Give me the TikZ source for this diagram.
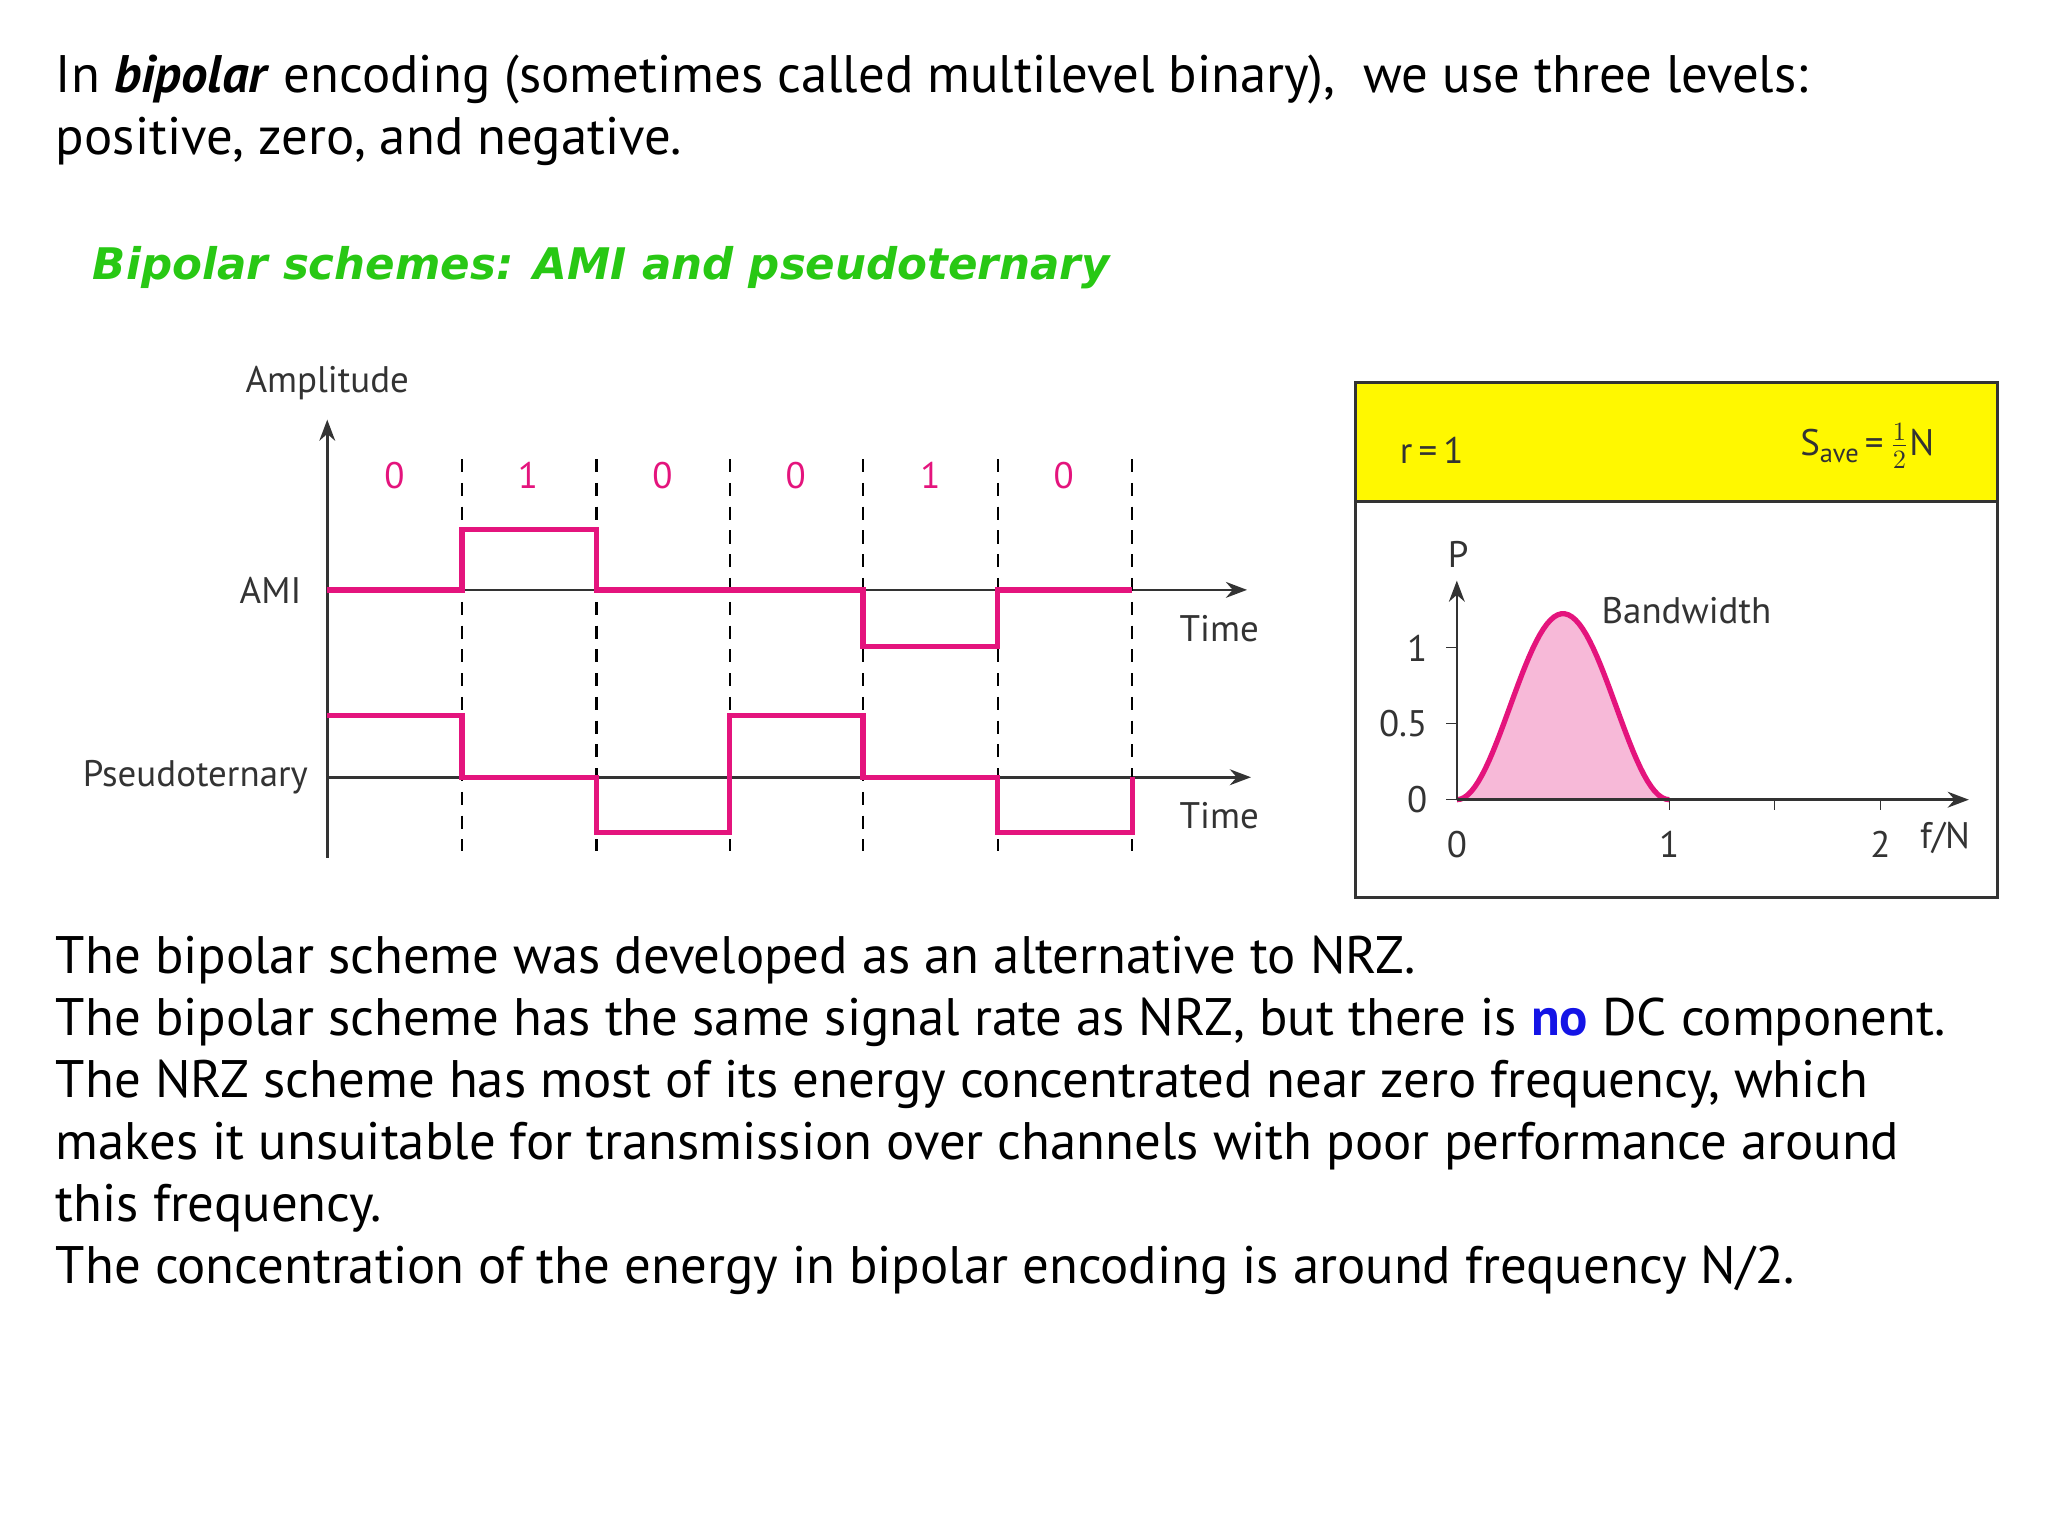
\documentclass[tikz,border=0pt]{standalone}
\usepackage{fontspec}
\setmainfont{PT Sans}
\newfontfamily\titlefont{DejaVu Sans}
\usetikzlibrary{arrows.meta}
\definecolor{pk}{RGB}{228,20,125}
\definecolor{gr}{RGB}{40,200,20}
\definecolor{yl}{RGB}{255,248,0}
\definecolor{bl}{RGB}{20,20,230}
\begin{document}
\begin{tikzpicture}[x=0.5pt,y=-0.5pt,
  body/.style={anchor=base west,inner sep=0,font=\fontsize{20}{24}\selectfont},
  lab/.style={inner sep=0,font=\fontsize{14}{16}\selectfont,text=black!80},
  bit/.style={inner sep=0,font=\fontsize{14}{16}\selectfont,text=pk},
  sig/.style={pk,line width=2pt},
  ax/.style={black!80,line width=1pt,-{Stealth[length=8pt]}},
  grid/.style={black,line width=0.8pt,dash pattern=on 5pt off 4pt}]
\useasboundingbox (0,0) rectangle (1552,1164);
\node[body] (t1) at (42,70) {In \textbf{\textit{bipolar}} encoding (sometimes called multilevel binary),\ \ we use three levels:};
\node[body] (t2) at (42,117) {positive, zero, and negative.};
\node[body,text=gr,font=\titlefont\fontsize{16.5}{20}\selectfont] (g) at (70,212) {\textbf{\textit{Bipolar schemes: AMI and pseudoternary}}};
% left diagram
\coordinate (o) at (248,650);
\coordinate (otop) at (248,318);
\draw[ax] (o) -- (otop);
\coordinate (a0) at (248,447); \coordinate (a1) at (945,447);
\draw[ax] (a0) -- (a1);
\coordinate (p0) at (248,589); \coordinate (p1) at (948,589);
\draw[ax] (p0) -- (p1);
\foreach \x in {350,452,553,654,756,858} {\coordinate (g\x a) at (\x,348); \coordinate (g\x b) at (\x,645); \draw[grid] (g\x a) -- (g\x b);}
\foreach \x/\b in {299/0,400/1,502/0,603/0,705/1,806/0} \node[bit] (b\x) at (\x,360) {\b};
\draw[sig] (248,447) -- (350,447) -- (350,401) -- (452,401) -- (452,447) -- (654,447) -- (654,490) -- (756,490) -- (756,447) -- (858,447);
\draw[sig] (248,542) -- (350,542) -- (350,589) -- (452,589) -- (452,631) -- (553,631) -- (553,542) -- (654,542) -- (654,589) -- (756,589) -- (756,631) -- (858,631) -- (858,589);
\node[lab] (amp) at (248,290) {Amplitude};
\node[lab] (ami) at (205,447) {AMI};
\node[lab] (ps) at (148,589) {Pseudoternary};
\node[lab] (tm1) at (924,476) {Time};
\node[lab] (tm2) at (924,618) {Time};
% right box
\fill[yl] (1027,290) rectangle (1514,380);
\draw[black!80,line width=1.2pt] (1027,290) rectangle (1514,680);
\draw[black!80,line width=1.2pt] (1027,380) -- (1514,380);
\node[lab] (r) at (1085,341) {r\,=\,1};
\node[lab] (s) at (1415,338) {S\raisebox{-0.4ex}{\fontsize{10}{12}\selectfont ave}\,=\,$\frac{1}{2}$N};
\fill[pk!30] plot[domain=0:1,samples=60] ({1104+161*\x},{606-141*sin(180*\x)^2}) -- cycle;
\draw[pk,line width=2pt] plot[domain=0:1,samples=60] ({1104+161*\x},{606-141*sin(180*\x)^2});
\coordinate (q0) at (1104,606); \coordinate (qt) at (1104,440); \coordinate (qr) at (1492,606);
\draw[ax] (q0) -- (qt);
\draw[ax] (q0) -- (qr);
\foreach \y in {491,548,606} \draw[black!80] (1096,\y) -- (1104,\y);
\foreach \x in {1265,1345,1425} \draw[black!80] (\x,606) -- (\x,614);
\node[lab] (pl) at (1105,420) {P};
\node[lab,anchor=east] (y1) at (1082,491) {1};
\node[lab,anchor=east] (y2) at (1082,548) {0.5};
\node[lab,anchor=east] (y3) at (1082,606) {0};
\node[lab] (x0) at (1104,640) {0};
\node[lab] (x1) at (1265,640) {1};
\node[lab] (x2) at (1425,640) {2};
\node[lab] (fn) at (1474,635) {f/N};
\node[lab] (bw) at (1278,463) {Bandwidth};
% bottom text
\node[body] (l1) at (42,738) {The bipolar scheme was developed as an alternative to NRZ.};
\node[body] (l2) at (42,785) {The bipolar scheme has the same signal rate as NRZ, but there is \textbf{\textcolor{bl}{no}} DC component.};
\node[body] (l3) at (42,832) {The NRZ scheme has most of its energy concentrated near zero frequency, which};
\node[body] (l4) at (42,879) {makes it unsuitable for transmission over channels with poor performance around};
\node[body] (l5) at (42,926) {this frequency.};
\node[body] (l6) at (42,973) {The concentration of the energy in bipolar encoding is around frequency N/2.};
\end{tikzpicture}
\end{document}
